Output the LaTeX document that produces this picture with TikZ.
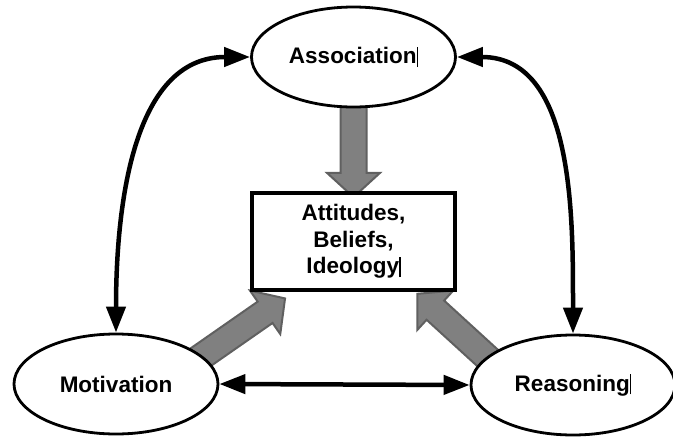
\documentclass[tikz,border=0pt]{standalone}
\usepackage{fontspec}
\setmainfont{Liberation Sans}
\usetikzlibrary{positioning,shapes.geometric,shapes.arrows,arrows.meta,calc,backgrounds}
\definecolor{arrowfill}{RGB}{128,128,128}
\definecolor{arrowedge}{RGB}{96,96,96}
\newcommand{\cursorbar}{\rule[-0.15em]{1.5pt}{0.9em}}

\begin{document}
\begin{tikzpicture}[x=1pt,y=-1pt,
  oval/.style={ellipse,draw,fill=white,line width=2.8pt,minimum width=204pt,minimum height=100pt,inner sep=0pt,font={\fontsize{22.5}{27}\selectfont\bfseries}},
  beliefbox/.style={rectangle,draw,fill=white,line width=3.6pt,minimum width=203pt,minimum height=97pt,align=center,font={\fontsize{22.5}{26.5}\selectfont\bfseries}},
  blockarrow/.style={single arrow,draw=arrowedge,fill=arrowfill,line width=2pt,inner xsep=0pt,inner ysep=12pt,single arrow head extend=13.5pt,single arrow tip angle=95,sloped,allow upside down},
  link/.style={{Triangle[length=26pt,width=19pt]}-{Triangle[length=26pt,width=19pt]},line width=4.5pt}]

	\useasboundingbox (0,0) rectangle (673,437);

	\node[beliefbox] (core) at (353.5,241.5) {Attitudes,\\Beliefs,\\Ideology\cursorbar};
	\node[oval] (assoc) [above of=core, node distance=184.5pt] {Association\cursorbar};
	\node[oval] (motiv) [below of=core, node distance=142.5pt, xshift=-237.5pt] {Motivation};
	\node[oval] (reason) [below of=core, node distance=143.5pt, xshift=219.5pt] {Reasoning\cursorbar};

	% grey block arrows, tails hidden behind the ellipses
	\coordinate (tipA) at (core.north);
	\coordinate (tailA) at ($(assoc.south)!-10pt!(tipA)$);
	\coordinate (tipM) at ($(core.south west)+(30,10)$);
	\coordinate (tailM) at ($(motiv.18)!-12pt!(tipM)$);
	\coordinate (tipR) at ($(core.south east)+(-35,6)$);
	\coordinate (tailR) at ($(reason.162)!-12pt!(tipR)$);
	\begin{scope}[on background layer]
	\path let \p1=($(tipA)-(tailA)$), \n1={veclen(\x1,\y1)} in (tailA) -- (tipA) node[blockarrow, midway, minimum height=\n1] {};
	\path let \p1=($(tipM)-(tailM)$), \n1={veclen(\x1,\y1)} in (tailM) -- (tipM) node[blockarrow, midway, minimum height=\n1] {};
	\path let \p1=($(tipR)-(tailR)$), \n1={veclen(\x1,\y1)} in (tailR) -- (tipR) node[blockarrow, midway, minimum height=\n1] {};
	\end{scope}

	\draw[link] (assoc.west) to[out=180, in=90] (motiv.north);
	\draw[link] (assoc.east) to[out=0, in=90] (reason.north);
	\draw[link] (motiv.east) -- (reason.west);

\end{tikzpicture}
\end{document}
